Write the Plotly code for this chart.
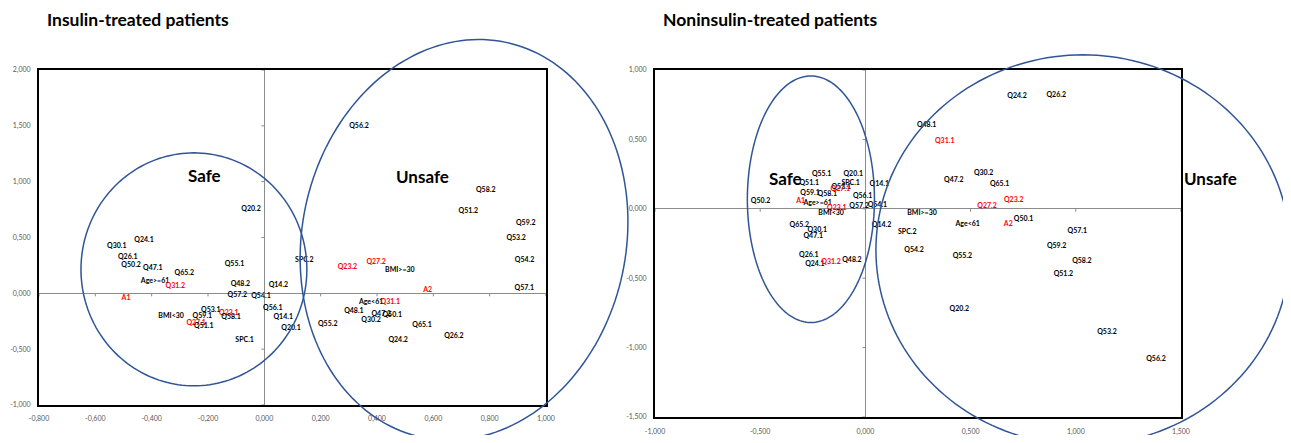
import numpy as np
import plotly.graph_objects as go

W, H = 1291, 443          # window size
OFF = 8                   # default body margin of the html page
FW, FH = W - 2 * OFF, H - 2 * OFF   # figure size so that page == window

# ---------------- Insulin-treated patients ----------------
ins_labels = ["Q24.1", "Q30.1", "Q26.1", "Q50.2", "Q47.1", "Q65.2", "Q55.1", "Age>=61", "Q31.2", "Q48.2",
              "Q14.2", "A1", "Q57.2", "Q54.1", "Q56.1", "Q53.1", "Q23.1", "BMI<30", "Q59.1", "Q58.1",
              "Q14.1", "Q27.1", "Q51.1", "Q20.1", "SPC.1", "Q55.2", "SPC.2", "Q23.2", "Q27.2", "BMI>=30",
              "A2", "Age<61", "Q31.1", "Q48.1", "Q47.2", "Q50.1", "Q30.2", "Q65.1", "Q24.2", "Q26.2",
              "Q58.2", "Q51.2", "Q59.2", "Q53.2", "Q54.2", "Q57.1", "Q56.2", "Q20.2"]
ins_x = [-0.427, -0.524, -0.485, -0.473, -0.396, -0.284, -0.106, -0.388, -0.316, -0.085,
         0.050, -0.491, -0.096, -0.012, 0.030, -0.190, -0.126, -0.331, -0.220, -0.118,
         0.067, -0.242, -0.215, 0.095, -0.070, 0.225, 0.142, 0.295, 0.397, 0.481,
         0.580, 0.379, 0.447, 0.318, 0.415, 0.454, 0.379, 0.560, 0.475, 0.673,
         0.786, 0.724, 0.928, 0.894, 0.924, 0.923, 0.336, -0.047]
ins_y = [0.473, 0.425, 0.324, 0.255, 0.222, 0.181, 0.261, 0.109, 0.064, 0.082,
         0.070, -0.040, -0.016, -0.029, -0.133, -0.148, -0.181, -0.208, -0.208, -0.213,
         -0.217, -0.270, -0.297, -0.309, -0.419, -0.276, 0.294, 0.237, 0.276, 0.204,
         0.025, -0.082, -0.076, -0.159, -0.184, -0.199, -0.244, -0.282, -0.416, -0.380,
         0.920, 0.732, 0.625, 0.491, 0.300, 0.043, 1.500, 0.756]

ins_xticks = [-0.8, -0.6, -0.4, -0.2, 0.0, 0.2, 0.4, 0.6, 0.8, 1.0]
ins_xticklabels = ["-0,800", "-0,600", "-0,400", "-0,200", "0,000", "0,200", "0,400", "0,600", "0,800", "1,000"]
ins_yticks = [-1.0, -0.5, 0.0, 0.5, 1.0, 1.5, 2.0]
ins_yticklabels = ["-1,000", "-0,500", "0,000", "0,500", "1,000", "1,500", "2,000"]

# ---------------- Noninsulin-treated patients ----------------
non_labels = ["Q55.1", "Q20.1", "Q51.1", "SPC.1", "Q53.1", "Q14.1", "Q59.1", "Q58.1", "Q27.1", "Q56.1",
              "Q50.2", "A1", "Age>=61", "Q57.2", "Q54.1", "Q23.1", "BMI<30", "Q14.2", "Q65.2", "Q30.1",
              "Q47.1", "Q26.1", "Q24.1", "Q31.2", "Q48.2", "Q24.2", "Q26.2", "Q48.1", "Q31.1", "Q30.2",
              "Q47.2", "Q65.1", "Q23.2", "Q27.2", "BMI>=30", "Q50.1", "Age<61", "A2", "SPC.2", "Q54.2",
              "Q55.2", "Q57.1", "Q59.2", "Q58.2", "Q51.2", "Q20.2", "Q53.2", "Q56.2"]
non_x = [-0.208, -0.058, -0.267, -0.070, -0.115, 0.066, -0.263, -0.181, -0.119, -0.013,
         -0.498, -0.308, -0.227, -0.030, 0.057, -0.136, -0.163, 0.077, -0.314, -0.229,
         -0.248, -0.269, -0.240, -0.163, -0.064, 0.721, 0.907, 0.291, 0.377, 0.562,
         0.420, 0.638, 0.705, 0.578, 0.269, 0.752, 0.486, 0.679, 0.199, 0.231,
         0.461, 1.007, 0.909, 1.029, 0.941, 0.446, 1.148, 1.381]
non_y = [0.246, 0.251, 0.183, 0.181, 0.152, 0.176, 0.114, 0.104, 0.143, 0.092,
         0.058, 0.058, 0.043, 0.022, 0.024, 0.007, -0.034, -0.121, -0.121, -0.154,
         -0.196, -0.338, -0.396, -0.382, -0.372, 0.812, 0.821, 0.599, 0.488, 0.256,
         0.208, 0.179, 0.065, 0.020, -0.034, -0.072, -0.114, -0.114, -0.172, -0.297,
         -0.343, -0.163, -0.270, -0.377, -0.471, -0.722, -0.890, -1.081]

non_xticks = [-1.0, -0.5, 0.0, 0.5, 1.0, 1.5]
non_xticklabels = ["-1,000", "-0,500", "0,000", "0,500", "1,000", "1,500"]
non_yticks = [-1.5, -1.0, -0.5, 0.0, 0.5, 1.0]
non_yticklabels = ["-1,500", "-1,000", "-0,500", "0,000", "0,500", "1,000"]

red_labels = ["A1", "A2", "Q23.1", "Q23.2", "Q27.1", "Q27.2", "Q31.1", "Q31.2"]

# ellipses (data units): cx, cy, rx, ry, tilt(deg, screen)
ins_ellipses = [(-0.250, 0.215, 0.401, 1.043, 0), (0.709, 0.479, 0.575, 1.808, 12)]
non_ellipses = [(-0.259, 0.069, 0.302, 0.888, 0), (1.034, -0.297, 0.984, 1.406, 0)]

# zone captions (data units)
ins_zones = [("Safe", -0.211, 1.052), ("Unsafe", 0.560, 1.043)]
non_zones = [("Safe", -0.382, 0.217), ("Unsafe", 1.638, 0.217)]

# ---------------- layout geometry (window pixels) ----------------
L_px = dict(x0=39, x1=546, y0=70, y1=405, xr=(-0.8, 1.0), yr=(-1.0, 2.0))
R_px = dict(x0=655, x1=1181, y0=70, y1=417, xr=(-1.0, 1.5), yr=(-1.5, 1.0))


def to_paper(px, py):
    return (px - OFF) / FW, 1 - (py - OFF) / FH


def dom(g):
    xa, ya = to_paper(g["x0"], g["y0"])
    xb, yb = to_paper(g["x1"], g["y1"])
    return [xa, xb], [yb, ya]


def scales(g):
    sx = (g["x1"] - g["x0"]) / (g["xr"][1] - g["xr"][0])
    sy = (g["y1"] - g["y0"]) / (g["yr"][1] - g["yr"][0])
    return sx, sy


def data_to_px(g, x, y):
    sx, sy = scales(g)
    return g["x0"] + (x - g["xr"][0]) * sx, g["y1"] - (y - g["yr"][0]) * sy


def ellipse_path(g, cx, cy, rx, ry, tilt):
    sx, sy = scales(g)
    pcx, pcy = data_to_px(g, cx, cy)
    a, b = rx * sx, ry * sy
    ph = np.radians(tilt)
    t = np.linspace(0, 2 * np.pi, 181)
    ex, ey = a * np.cos(t), -b * np.sin(t)
    px = pcx + ex * np.cos(ph) - ey * np.sin(ph)
    py = pcy + ex * np.sin(ph) + ey * np.cos(ph)
    pts = ["%.5f,%.5f" % to_paper(x, y) for x, y in zip(px, py)]
    return "M" + " L".join(pts) + " Z"


fig = go.Figure()
for lab, xs, ys, xa, ya in [(ins_labels, ins_x, ins_y, "x", "y"), (non_labels, non_x, non_y, "x2", "y2")]:
    cols = ["#FF0000" if l in red_labels else "#000000" for l in lab]
    fig.add_trace(go.Scatter(x=xs, y=ys, text=lab, mode="text", xaxis=xa, yaxis=ya,
                             textposition="middle center", cliponaxis=False,
                             textfont=dict(family="Lato", size=7, color=cols, weight="bold"),
                             hoverinfo="skip"))

lx, ly = dom(L_px)
rx_, ry_ = dom(R_px)
tickfont = dict(family="Lato", size=7, color="#595959")
axcommon = dict(showgrid=False, zeroline=True, zerolinecolor="#8c8c8c", zerolinewidth=1,
                showline=True, mirror=True, linecolor="black", linewidth=2, ticks="",
                tickfont=tickfont, fixedrange=True, automargin=False)
fig.update_layout(
    width=FW, height=FH, margin=dict(l=0, r=0, t=0, b=0, pad=0, autoexpand=False),
    paper_bgcolor="white", plot_bgcolor="white", showlegend=False,
    xaxis=dict(domain=lx, range=list(L_px["xr"]), tickvals=ins_xticks, ticktext=ins_xticklabels,
               anchor="y", ticklabelstandoff=6, **axcommon),
    yaxis=dict(domain=ly, range=list(L_px["yr"]), tickvals=ins_yticks, ticktext=ins_yticklabels,
               anchor="x", ticklabelstandoff=5, **axcommon),
    xaxis2=dict(domain=rx_, range=list(R_px["xr"]), tickvals=non_xticks, ticktext=non_xticklabels,
                anchor="y2", ticklabelstandoff=7, **axcommon),
    yaxis2=dict(domain=ry_, range=list(R_px["yr"]), tickvals=non_yticks, ticktext=non_yticklabels,
                anchor="x2", ticklabelstandoff=5, **axcommon),
)

shapes = []
# small tick marks on the zero axes
for xt, xa, ya in [(ins_xticks, "x", "y"), (non_xticks, "x2", "y2")]:
    for v in xt:
        shapes.append(dict(type="line", xref=xa, yref=ya, x0=v, x1=v, ysizemode="pixel", yanchor=0,
                           y0=0, y1=-3, line=dict(color="#8c8c8c", width=1)))
for yt, xa, ya in [(ins_yticks, "x", "y"), (non_yticks, "x2", "y2")]:
    for v in yt:
        shapes.append(dict(type="line", xref=xa, yref=ya, y0=v, y1=v, xsizemode="pixel", xanchor=0,
                           x0=-3, x1=0, line=dict(color="#8c8c8c", width=1)))
for g, ells in [(L_px, ins_ellipses), (R_px, non_ellipses)]:
    for e in ells:
        shapes.append(dict(type="path", xref="paper", yref="paper", path=ellipse_path(g, *e),
                           line=dict(color="#2F5597", width=1.5), fillcolor="rgba(0,0,0,0)"))
fig.update_layout(shapes=shapes)

ann = []
big = dict(family="Lato", size=17, color="black", weight="bold")
for g, zones in [(L_px, ins_zones), (R_px, non_zones)]:
    for txt, zx, zy in zones:
        px, py = data_to_px(g, zx, zy)
        ax_, ay_ = to_paper(px, py)
        ann.append(dict(x=ax_, y=ay_, xref="paper", yref="paper", text=txt, showarrow=False,
                        xanchor="center", yanchor="middle", font=big))
tfont = dict(family="Lato", size=17.5, color="black", weight="bold")
for txt, tx in [("Insulin-treated patients", 48), ("Noninsulin-treated patients", 664)]:
    px, py = to_paper(tx - 3, 19)
    ann.append(dict(x=px, y=py, xref="paper", yref="paper", xanchor="left", yanchor="middle",
                    text=txt, showarrow=False, font=tfont))
fig.update_layout(annotations=ann)

fig.write_html("out.html", config={"displayModeBar": False})
